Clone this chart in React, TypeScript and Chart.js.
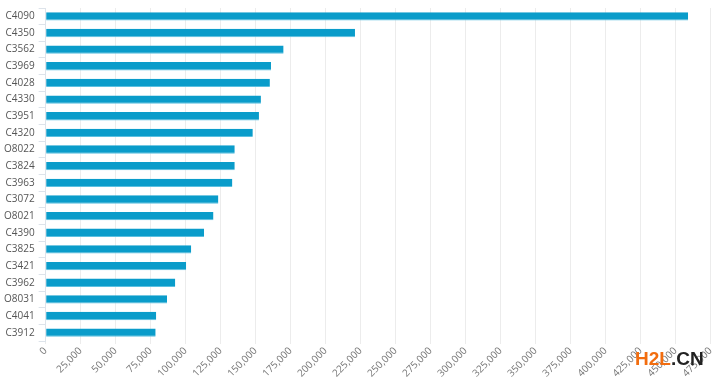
import React, { useEffect, useRef } from "react";
import { Chart, registerables } from "chart.js";

Chart.register(...registerables);

const categories = [
  "C4090", "C4350", "C3562", "C3969", "C4028", "C4330", "C3951", "C4320", "O8022", "C3824",
  "C3963", "C3072", "O8021", "C4390", "C3825", "C3421", "C3962", "O8031", "C4041", "C3912",
];
const values = [
  459000, 221000, 170000, 161000, 160200, 153800, 152400, 148000, 135100, 135100,
  133400, 123400, 119900, 113200, 104000, 100400, 92600, 86700, 79000, 78600,
];
const xMax = 475000;
const xStep = 25000;

export default function App() {
  const ref = useRef<HTMLCanvasElement | null>(null);
  useEffect(() => {
    if (!ref.current) return;
    const chart = new Chart(ref.current, {
      type: "bar",
      data: {
        labels: categories,
        datasets: [
          {
            data: values,
            backgroundColor: "#0a9cca",
            borderColor: "#5cc0e0",
            borderWidth: { bottom: 1, top: 0, left: 0, right: 0 } as any,
            barPercentage: 0.5,
            categoryPercentage: 1,
          },
        ],
      },
      options: {
        indexAxis: "y",
        animation: false,
        responsive: false,
        maintainAspectRatio: false,
        layout: { padding: { left: 0, right: 8, top: 8, bottom: 0 } },
        plugins: { legend: { display: false }, tooltip: { enabled: false } },
        scales: {
          x: {
            min: 0,
            max: xMax,
            afterFit: (scale: any) => {
              scale.height = 42;
            },
            ticks: {
              stepSize: xStep,
              minRotation: 45,
              maxRotation: 45,
              color: "#777",
              font: { family: "'Open Sans'", size: 10 },
              padding: 1,
            },
            grid: { color: "#ececec", drawTicks: true, tickLength: 3 },
            border: { display: false },
          },
          y: {
            afterFit: (scale: any) => {
              scale.paddingTop = 0;
              scale.paddingBottom = 0;
            },
            ticks: {
              color: "#555",
              font: { family: "'Open Sans'", size: 10 },
              padding: 4,
            },
            grid: {
              offset: true,
              drawOnChartArea: false,
              color: "#dde3ea",
              tickLength: 7,
            },
            border: { display: true, color: "#dde3ea" },
          },
        },
      },
    });
    return () => chart.destroy();
  }, []);
  return (
    <div style={{ position: "absolute", left: 0, top: 0, width: 720, height: 383, background: "#fff" }}>
      <canvas ref={ref} width={720} height={383} style={{ display: "block" }} />
      <div
        style={{
          position: "absolute",
          left: 635,
          top: 349,
          fontFamily: "'Liberation Sans', Arial, sans-serif",
          fontWeight: 700,
          fontSize: 19,
          lineHeight: "19px",
          letterSpacing: 0,
          whiteSpace: "nowrap",
        }}
      >
        <span style={{ color: "#f26d0f" }}>H2L</span>
        <span style={{ color: "#222" }}>.CN</span>
      </div>
    </div>
  );
}
